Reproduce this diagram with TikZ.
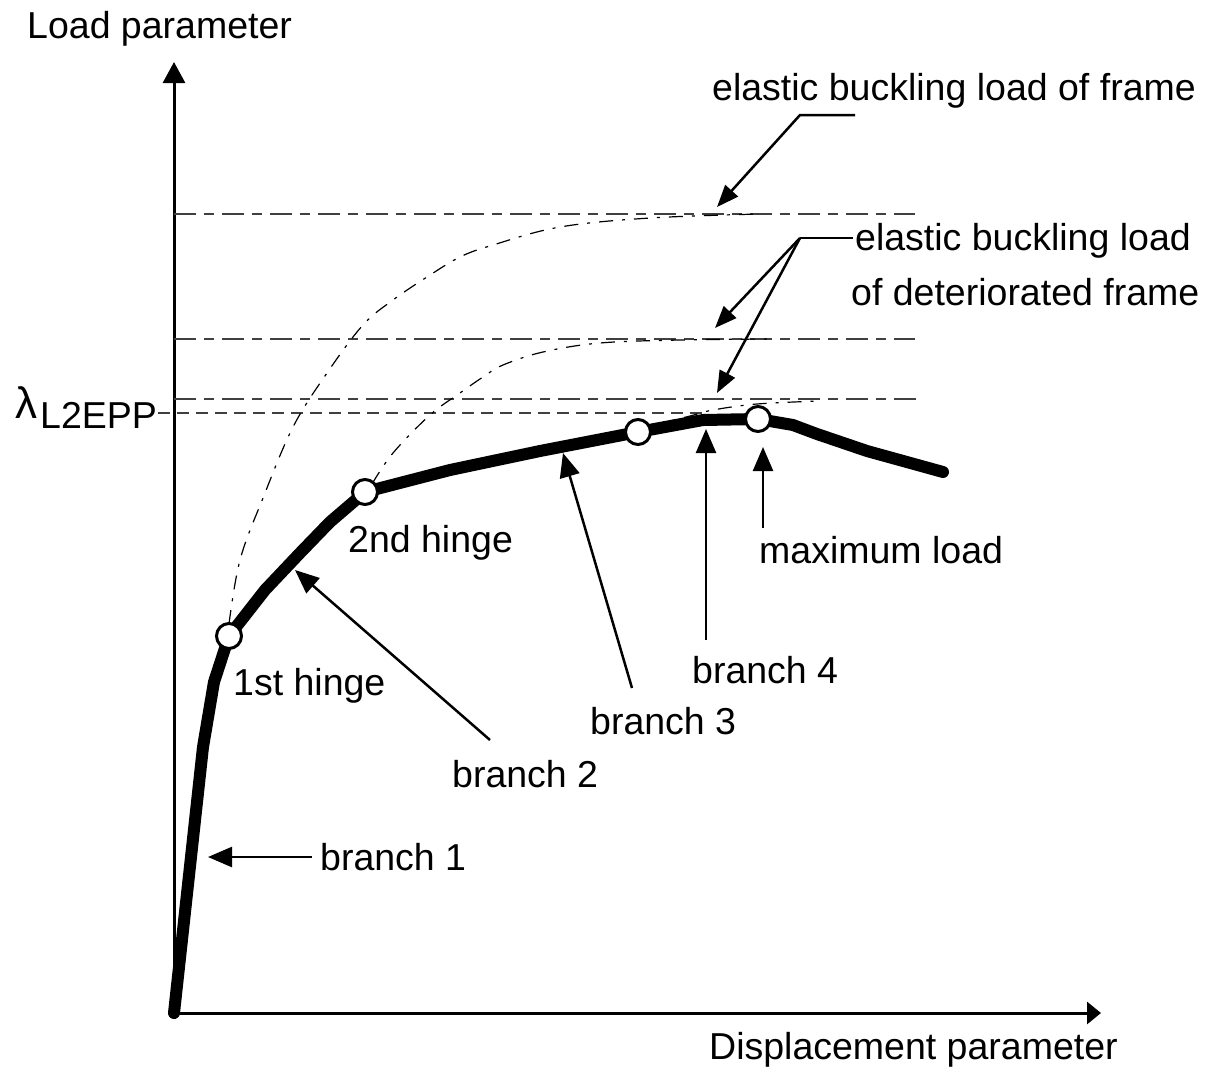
\documentclass[tikz,border=0pt]{standalone}
\usepackage{fontspec}
\setmainfont{Liberation Sans}
\usetikzlibrary{arrows.meta}
\begin{document}
\begin{tikzpicture}[x=1pt,y=-1pt,
  lbl/.style={anchor=base west,inner sep=0pt,font=\fontsize{37.5}{45}\selectfont},
  refline/.style={draw=black!75,line width=1.6pt,dash pattern=on 22pt off 8pt on 10pt off 8pt},
  bucklecurve/.style={draw=black,line width=1.2pt,dash pattern=on 14pt off 9pt on 3pt off 9pt},
  pathcurve/.style={draw=black,line width=12pt,line join=round,line cap=round},
  hinge/.style={circle,draw=black,fill=white,line width=3pt,minimum size=25pt,inner sep=0pt},
  leader/.style={draw=black,line width=2.5pt,-{Triangle[length=22pt,width=17pt]}},
  brarrow/.style={draw=black,line width=2.5pt,-{Triangle[length=24pt,width=20pt]}},
  axis/.style={draw=black,line width=3pt}]
\useasboundingbox (0,0) rectangle (1216,1069);

% axes
\coordinate (O) at (174,1013);
\coordinate (ytop) at (174,62);
\coordinate (xend) at (1101,1013);
\draw[axis,-{Triangle[length=21pt,width=22pt]}] (O) -- (ytop);
\draw[axis,-{Triangle[length=14pt,width=22pt]}] (O) -- (xend);

% reference lines
\coordinate (l1a) at (174,214); \coordinate (l1b) at (915,214);
\coordinate (l2a) at (174,339); \coordinate (l2b) at (915,339);
\coordinate (l3a) at (174,399); \coordinate (l3b) at (918,399);
\coordinate (l4a) at (158,413); \coordinate (l4b) at (705,413);
\draw[refline] (l1a) -- (l1b);
\draw[refline] (l2a) -- (l2b);
\draw[refline] (l3a) -- (l3b);
\draw[draw=black!75,line width=1.6pt,dash pattern=on 12pt off 7pt] (l4a) -- (l4b);

% buckling curves
\draw[bucklecurve] plot[smooth,tension=0.6] coordinates {(229,624) (240,560) (263,498) (293,427) (327,373) (363,325) (393,300) (427,277) (460,257) (493,245) (560,227) (650,218) (760,214)};
\draw[bucklecurve] plot[smooth,tension=0.6] coordinates {(372,484) (393,453) (430,415) (460,393) (483,377) (503,365) (543,352) (600,343) (680,340) (770,339)};
\draw[bucklecurve] plot[smooth,tension=0.6] coordinates {(650,426) (690,416) (713,410) (757,404) (820,401)};

% main load path
\draw[pathcurve] (174,1013) -- (203,747) -- (214,682) -- (229,636) -- (265,590) -- (300,553) -- (330,522) -- (365,492)
  -- (450,470) -- (540,451) -- (638,432) -- (703,420) -- (758,419) -- (793,425) -- (817,434) -- (867,451) -- (943,472);

% hinges
\node[hinge] (h1) at (229,636) {};
\node[hinge] (h2) at (365,492) {};
\node[hinge] (h3) at (638,432) {};
\node[hinge] (h4) at (758,419) {};

% texts
\node[lbl] (ylab) at (27,38) {Load parameter};
\node[lbl] (xlab) at (709,1059) {Displacement parameter};
\node[lbl] (ebf) at (712,100) {elastic buckling load of frame};
\node[lbl] (ebd1) at (855,250) {elastic buckling load};
\node[lbl] (ebd2) at (851,305) {of deteriorated frame};
\node[lbl] (t1) at (233,695) {1st hinge};
\node[lbl] (t2) at (348,552) {2nd hinge};
\node[lbl] (b1) at (320,870) {branch 1};
\node[lbl] (b2) at (452,787) {branch 2};
\node[lbl] (b3) at (590,734) {branch 3};
\node[lbl] (b4) at (692,683) {branch 4};
\node[lbl] (ml) at (759,563) {maximum load};
\node[anchor=base west,inner sep=0pt,font=\fontsize{44}{50}\selectfont] (lam) at (15,418) {λ};
\node[anchor=base west,inner sep=0pt,font=\fontsize{37.5}{45}\selectfont] (lamsub) at (40,428) {L2EPP};

% leaders
\coordinate (fa) at (855,115); \coordinate (fb) at (800,115); \coordinate (ftip) at (717,207);
\draw[leader] (fa) -- (fb) -- (ftip);
\coordinate (da) at (853,238); \coordinate (db) at (800,238);
\coordinate (dtip1) at (715,328); \coordinate (dtip2) at (717,393);
\draw[draw=black,line width=2.5pt] (da) -- (db);
\draw[leader] (db) -- (dtip1);
\draw[leader] (db) -- (dtip2);

% branch arrows
\coordinate (b1s) at (312,857); \coordinate (b1t) at (208,857);
\coordinate (b2s) at (490,740); \coordinate (b2t) at (295,570);
\coordinate (b3s) at (632,688); \coordinate (b3t) at (563,453);
\coordinate (b4s) at (706,640); \coordinate (b4t) at (706,429);
\coordinate (mls) at (763,528); \coordinate (mlt) at (763,447);
\draw[brarrow] (b1s) -- (b1t);
\draw[brarrow] (b2s) -- (b2t);
\draw[brarrow] (b3s) -- (b3t);
\draw[brarrow] (b4s) -- (b4t);
\draw[brarrow] (mls) -- (mlt);
\end{tikzpicture}
\end{document}
